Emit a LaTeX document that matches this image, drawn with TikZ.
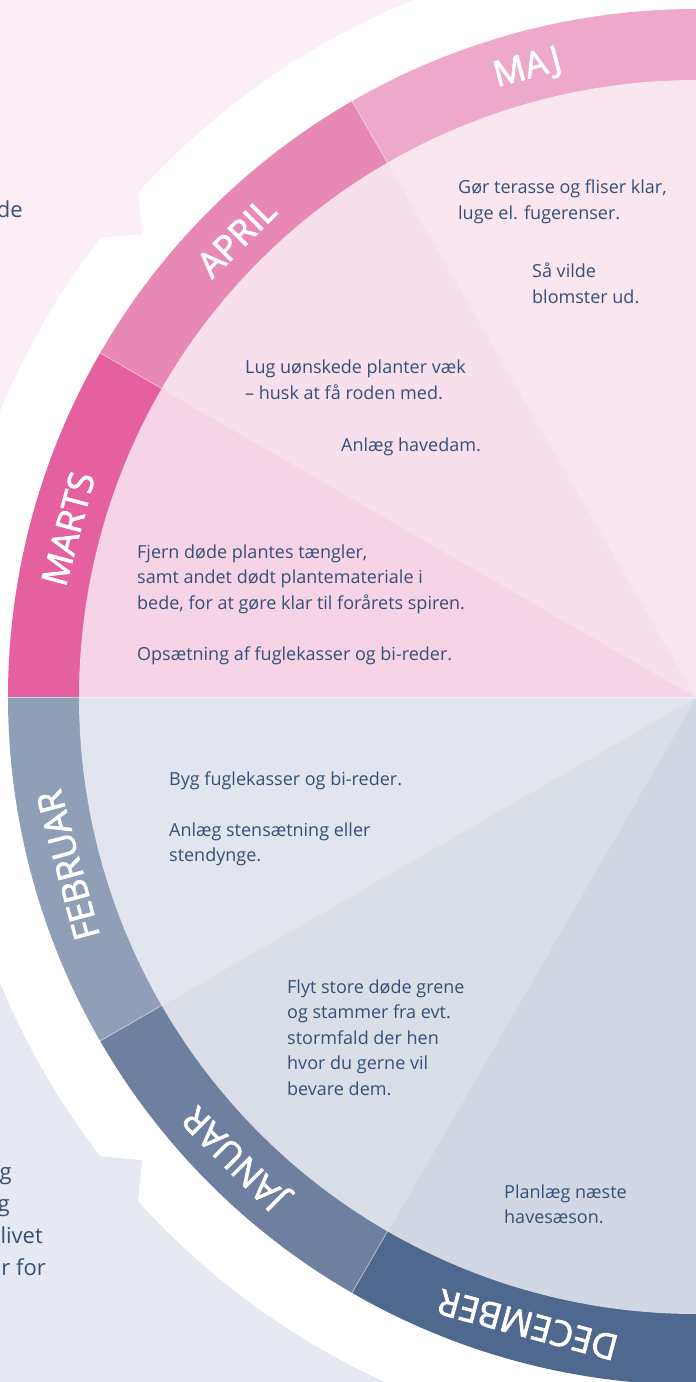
\documentclass[tikz,border=0pt]{standalone}
\usepackage{fontspec}
\setmainfont{Open Sans}
\newfontfamily\monthfont{Open Sans}[FakeBold=2]
\definecolor{bgpink}{HTML}{FCEEF6}
\definecolor{bgblue}{HTML}{E6E9F1}
\definecolor{textblue}{HTML}{34507A}
\definecolor{ringmaj}{HTML}{EEA8CA}
\definecolor{ringapr}{HTML}{E888B5}
\definecolor{ringmar}{HTML}{E4609E}
\definecolor{ringfeb}{HTML}{909FB8}
\definecolor{ringjan}{HTML}{6E80A0}
\definecolor{ringdec}{HTML}{4F688E}
\definecolor{wedgemaj}{HTML}{F9E6EF}
\definecolor{wedgeapr}{HTML}{F7DFEB}
\definecolor{wedgemar}{HTML}{F6D4E5}
\definecolor{wedgefeb}{HTML}{E2E5ED}
\definecolor{wedgejan}{HTML}{DADFE7}
\definecolor{wedgedec}{HTML}{D1D8E3}

\begin{document}
\begin{tikzpicture}[x=1pt, y=1pt]
        \tikzstyle{month} = [text=white, font=\monthfont\fontsize{35.5}{35.5}\selectfont, inner sep=0pt]
        \tikzstyle{task} = [text=textblue, font=\fontsize{18}{25.5}\selectfont, align=left, anchor=base west, inner sep=0pt]
        \tikzstyle{bgtask} = [text=textblue, font=\fontsize{22}{32}\selectfont, anchor=base east, inner sep=0pt]
        \tikzstyle{spoke} = [draw=white, line width=0.8pt, opacity=0.5]

        \useasboundingbox (-696,-685) rectangle (0,697);

        % background halves
        \fill[bgpink] (-696,0) rectangle (0,697);
        \fill[bgblue] (-696,-685) rectangle (0,0);

        % cut off text of the left page
        \node (leftde) [bgtask] at (-673,479) {de};
        \node (leftg1) [bgtask] at (-684,-482) {g};
        \node (leftg2) [bgtask] at (-686,-514) {g};
        \node (leftlivet) [bgtask] at (-653,-546) {livet};
        \node (leftfor) [bgtask] at (-650,-578) {r for};

        % white band with notches
        \fill[white] (0,0) circle (752);
        \fill[bgpink] (140.1:722) -- (137.9:752) -- (137.9:790) -- (142.35:790) -- (142.35:752) -- cycle;
        \fill[bgblue] (219.9:722) -- (222.1:752) -- (222.1:790) -- (217.65:790) -- (217.65:752) -- cycle;

        % months
        \foreach \a/\ringc/\wedgec/\name/\label in {90/ringmaj/wedgemaj/maj/MAJ, 120/ringapr/wedgeapr/april/APRIL, 150/ringmar/wedgemar/marts/MARTS, 180/ringfeb/wedgefeb/februar/FEBRUAR, 210/ringjan/wedgejan/januar/JANUAR, 240/ringdec/wedgedec/december/DECEMBER} {
            \fill[\ringc] (0,0) -- (\a:688) arc[start angle=\a, end angle=\a+30, radius=688] -- cycle;
            \fill[\wedgec] (0,0) -- (\a:617) arc[start angle=\a, end angle=\a+30, radius=617] -- cycle;
            \node (\name) [month, rotate=\a-75] at (\a+15:650) {\label};
        }
        \foreach \a in {120,150,180,210,240}
            \draw[spoke] (0,0) -- (\a:688);

        % tasks (anchored at the last line)
        \node (majtask) [task] at (-238,477.5) {Gør terasse og fliser klar,\\luge el. fugerenser.};
        \node (majflowers) [task] at (-164,393.5) {Så vilde\\blomster ud.};
        \node (apriltask) [task] at (-451,297.5) {Lug uønskede planter væk\\– husk at få roden med.};
        \node (aprilpond) [task] at (-355,245) {Anlæg havedam.};
        \node (martstask) [task] at (-559,37) {Fjern døde plantes tængler,\\samt andet dødt plantemateriale i\\bede, for at gøre klar til forårets spiren.\\[25.5pt]Opsætning af fuglekasser og bi-reder.};
        \node (februartask) [task] at (-527,-164.5) {Byg fuglekasser og bi-reder.\\[25.5pt]Anlæg stensætning eller\\stendynge.};
        \node (januartask) [task] at (-409,-398) {Flyt store døde grene\\og stammer fra evt.\\stormfald der hen\\hvor du gerne vil\\bevare dem.};
        \node (decembertask) [task] at (-192,-526.5) {Planlæg næste\\havesæson.};
    \end{tikzpicture}
\end{document}
